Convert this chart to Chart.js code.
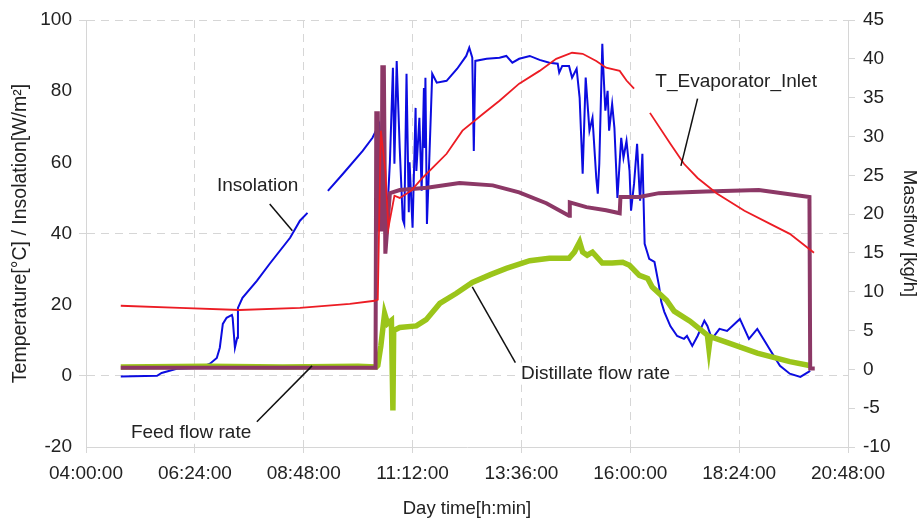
<!DOCTYPE html>
<html>
<head>
<meta charset="utf-8">
<script src="https://cdn.jsdelivr.net/npm/chart.js@4.4.0/dist/chart.umd.min.js"></script>
<style>
  html, body { margin: 0; padding: 0; background: #fff; }
  #wrap { width: 918px; height: 518px; }
</style>
</head>
<body>
<div id="wrap"><canvas id="chart" width="918" height="518"></canvas></div>
<script>
// -----------------------------
// Data (time in minutes since 00:00)
// -----------------------------
const xTicks = [240, 384, 528, 672, 816, 960, 1104, 1248];

// Insolation (left axis)
const insolTime = [286, 334, 340, 360, 391, 404, 413, 417, 421, 426, 433, 434, 437, 440, 441, 447, 466, 483, 510, 523, 533,
  545, 560, 580, 606, 619, 628, 635, 638, 642, 646, 648, 651, 655, 659, 661, 664, 667, 668, 672, 676, 677, 681, 684, 687,
  688, 689, 691, 694, 698, 704, 717, 731, 743, 747, 751, 753, 755, 770, 787, 796, 804, 813, 827, 840, 853, 864, 866, 870,
  879, 883, 889, 893, 897, 901, 906, 910, 915, 917, 919, 923, 924, 927, 930, 932, 936, 939, 943, 948, 951, 955, 959, 961,
  965, 969, 972, 973, 976, 979, 983, 985, 992, 998, 1001, 1005, 1013, 1022, 1031, 1035, 1042, 1049, 1058, 1062, 1068,
  1078, 1088, 1105, 1117, 1128, 1144, 1158, 1171, 1185, 1198];
const insolVal = [-0.2, 0, 0.8, 2, 2.3, 3.4, 5, 7.9, 14.6, 16.3, 17.1, 16.3, 7.9, 10.7, 19.1, 21.9, 26.7, 31.5, 38.8, 43.6, 45.8,
  null, 52.0, 56.8, 63.2, 66.9, 70.8, 52, 43.6, 60, 86.6, 59.6, 88.5, 64, 44, 42.7, 84.9, 46, 60, 41.6, 75.3, 57.6, 72.5, 52, 80.9,
  64, 83.8, 42.7, 60, 84.9, 82.4, 82.9, 86.3, 89.9, 92.2, 89.4, 63.2, 88.5, 89.1, 89.4, 89.9, 88.0, 89.1, 89.9, 88.8, 88.0, 87.7, 85.2, 87.1,
  87.1, 83.8, 86.3, 78.1, 56.8, 83.8, 68.9, 72.5, 55.6, 51.2, 59.6, 93.3, 87.7, 74.5, 80.1, 68.9, 76.4, 69.7, 50.0, 66.9, 61.3, 66.0, 57.6, 46.4,
  54, 65.2, 52.8, 49.2, 62.4, 37.1, 34.3, 32.9, 32.0, 25.3, 20.8, 18.0, 14.0, 11.2, 10.4, 11.2, 8.4, 11.2, 15.5, 14.0, 10.4,
  13.2, 12.6, 16.0, 10.4, 13.2, 7.6, 2.8, 0.6, -0.3, 1.4];

// T_Evaporator_Inlet (left axis)
const tempTime = [286, 364, 443, 523, 589, 622, 626, 630, 636, 640, 648, 655, 670, 685, 717, 738, 765, 787, 813, 840, 862,
  883, 897, 915, 928, 946, 955, 965, 975, 986, 1013, 1031, 1049, 1075, 1111, 1145, 1171, 1203];
const tempVal = [19.7, 19.1, 18.5, 19.1, 20.2, 21.1, 21.4, 68.9, 57.6, 41.6, 50.6, 50.0, 52, 55.6, 62.4, 68.9, 73.6, 77.3, 82.1, 85.7, 89.1,
  90.8, 90.5, 88.5, 86.6, 85.7, 83.0, 80.7, null, 73.9, 65.2, 59.6, 55.6, 51.2, 46.4, 42.7, 39.9, 34.6];

// Distillate flow rate (right axis, kg/h)
const distTime = [286, 400, 500, 600, 624, 626, 630, 635, 639, 644, 646, 647, 655, 677, 690, 708, 730, 751, 775, 796, 827,
  853, 879, 886, 893, 897, 903, 910, 923, 936, 950, 959, 972, 983, 989, 1008, 1018, 1039, 1062, 1064, 1066, 1084, 1128, 1171, 1197];
const distVal = [0.3, 0.4, 0.3, 0.4, 0.3, 0.5, 3, 7.2, 5.9, 6.3, -5.3, 5.0, 5.4, 5.6, 6.4, 8.5, 9.8, 11.2, 12.2, 13.0, 14.0,
  14.3, 14.3, 15.1, 16.4, 15.1, 14.7, 15.1, 13.7, 13.7, 13.8, 13.4, 12.1, 11.7, 10.6, 8.9, 7.5, 6.2, 4.4, 2.7, 4.2, 3.6, 2.1, 1.0, 0.5];

// Feed flow rate (right axis, kg/h)
const feedTime = [286, 500, 623, 624, 626, 627, 631, 632, 634, 636, 642, 655, 691, 734, 778, 813, 849, 879, 880, 902, 928,
  946, 947, 972, 998, 1060, 1130, 1197, 1198, 1204];
const feedVal = [0.2, 0.2, 0.2, 33, 33, 18, 18, 38.9, 38.9, 14.9, 22.7, 23.1, 23.4, 24.0, 23.7, 22.8, 21.4, 19.8, 21.5, 20.9, 20.5,
  20.1, 22.2, 22.2, 22.7, 22.9, 23.1, 22.2, 0.1, 0.1];

const pts = (t, v) => t.map((x, i) => ({ x: x, y: v[i] }));

function fmtTime(min) {
    const h = Math.floor(min / 60), m = Math.round(min % 60);
    return String(h).padStart(2, '0') + ':' + String(m).padStart(2, '0') + ':00';
}

// -----------------------------
// Callout labels (placed in data units, left axis)
// -----------------------------
const callouts = [
    { text: 'Insolation', at: [467, 53.4], from: [483, 48.3], to: [513, 40.8] },
    { text: 'T_Evaporator_Inlet', at: [1100, 82.6], from: [1049, 77.9], to: [1027, 59.0] },
    { text: 'Feed flow rate', at: [379, -16.0], from: [466, -12.9], to: [539, 2.8] },
    { text: 'Distillate flow rate', at: [914, 0.6], from: [808, 3.7], to: [751, 25.0] }
];

const calloutPlugin = {
    id: 'callouts',
    afterDatasetsDraw(chart) {
        const ctx = chart.ctx, xs = chart.scales.x, ys = chart.scales.y;
        ctx.save();
        ctx.font = '19px "Liberation Sans", Arial, sans-serif';
        callouts.forEach(c => {
            ctx.strokeStyle = '#111';
            ctx.lineWidth = 1.5;
            ctx.beginPath();
            ctx.moveTo(xs.getPixelForValue(c.from[0]), ys.getPixelForValue(c.from[1]));
            ctx.lineTo(xs.getPixelForValue(c.to[0]), ys.getPixelForValue(c.to[1]));
            ctx.stroke();
            const px = xs.getPixelForValue(c.at[0]), py = ys.getPixelForValue(c.at[1]);
            const w = ctx.measureText(c.text).width;
            ctx.fillStyle = '#fff';
            ctx.fillRect(px - w / 2 - 3, py - 11, w + 6, 22);
            ctx.fillStyle = '#222';
            ctx.textAlign = 'center';
            ctx.textBaseline = 'middle';
            ctx.fillText(c.text, px, py);
        });
        ctx.restore();
    }
};

// -----------------------------
// Chart
// -----------------------------
const FONT = '"Liberation Sans", Arial, sans-serif';
const gridCol = '#d6d6d6';

new Chart(document.getElementById('chart'), {
    type: 'line',
    data: {
        datasets: [
            { label: 'Insolation', data: pts(insolTime, insolVal), yAxisID: 'y', borderColor: '#0c0ce0', borderWidth: 2, order: 3 },
            { label: 'Distillate flow rate', data: pts(distTime, distVal), yAxisID: 'y1', borderColor: '#9bc51a', borderWidth: 5.5, order: 2 },
            { label: 'Feed flow rate', data: pts(feedTime, feedVal), yAxisID: 'y1', borderColor: '#8c3866', borderWidth: 4, order: 1 },
            { label: 'T_Evaporator_Inlet', data: pts(tempTime, tempVal), yAxisID: 'y', borderColor: '#ec1c24', borderWidth: 1.8, order: 0 }
        ]
    },
    options: {
        responsive: false,
        animation: false,
        elements: { point: { radius: 0 }, line: { tension: 0, fill: false } },
        layout: { padding: { top: 20, left: 0, right: 0, bottom: 0 } },
        plugins: { legend: { display: false }, tooltip: { enabled: false } },
        scales: {
            x: {
                type: 'linear',
                position: 'bottom',
                min: 240,
                max: 1248,
                afterBuildTicks: s => { s.ticks = xTicks.map(v => ({ value: v })); },
                afterFit: s => { s.height = 71; },
                ticks: { callback: v => fmtTime(v), font: { family: FONT, size: 19 }, color: '#222', padding: 9, maxRotation: 0, autoSkip: false },
                grid: { color: gridCol, lineWidth: 1, tickLength: 6 },
                border: { color: gridCol, dash: [8, 6] },
                title: { display: true, text: 'Day time[h:min]', font: { family: FONT, size: 18.5, lineHeight: 1 }, color: '#222', padding: { top: 9, bottom: 0 } }
            },
            y: {
                position: 'left',
                min: -20,
                max: 100,
                afterFit: s => { s.width = 86; },
                ticks: { stepSize: 20, font: { family: FONT, size: 19 }, color: '#222', padding: 7 },
                grid: { color: c => [100, 40, 0].includes(c.tick && c.tick.value) ? gridCol : 'rgba(0,0,0,0)', tickLength: 7 },
                border: { color: gridCol, dash: [8, 6] },
                title: { display: true, text: 'Temperature[°C] / Insolation[W/m²]', font: { family: FONT, size: 19.5, lineHeight: 1 }, color: '#222', padding: { top: 11, bottom: 0 } }
            },
            y1: {
                position: 'right',
                min: -10,
                max: 45,
                afterFit: s => { s.width = 70; },
                ticks: { stepSize: 5, font: { family: FONT, size: 19 }, color: '#222', padding: 8 },
                grid: { drawOnChartArea: false, color: gridCol, tickLength: 7 },
                border: { color: gridCol },
                title: { display: true, text: 'Massflow [kg/h]', font: { family: FONT, size: 18.5, lineHeight: 1 }, color: '#222', padding: { top: 0, bottom: 0 } }
            }
        }
    },
    plugins: [calloutPlugin]
});
</script>
</body>
</html>
